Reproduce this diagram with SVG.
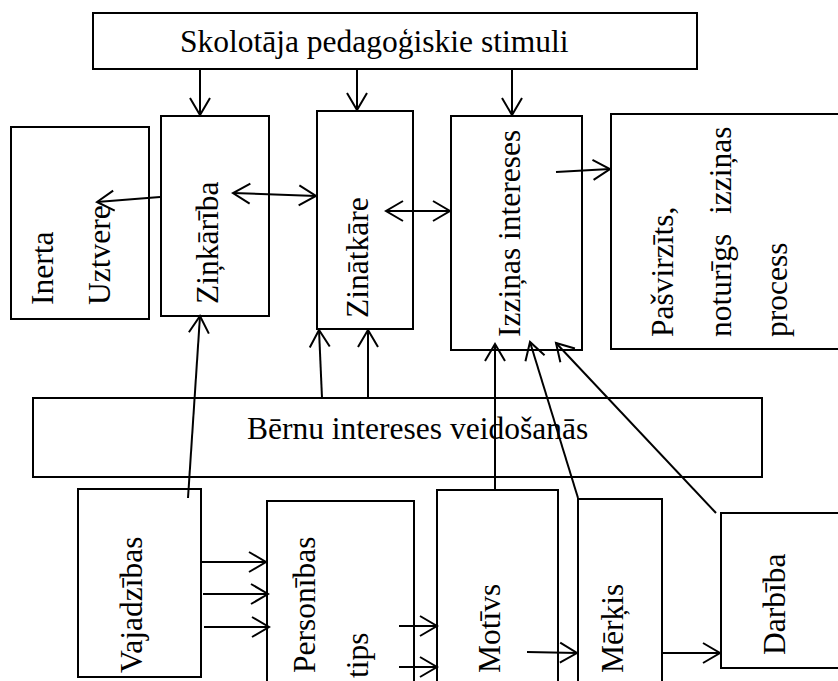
<svg xmlns="http://www.w3.org/2000/svg" width="838" height="681" viewBox="0 0 838 681">
<style>
.box{fill:#fff;stroke:#000;stroke-width:2}
.t{font-family:"Liberation Serif","Times New Roman",serif;font-size:31.5px;fill:#000}
.c{fill:none;stroke:#000;stroke-width:2;marker-end:url(#ah)}
.d{marker-start:url(#ah)}
</style>
<defs>
<marker id="ah" markerUnits="userSpaceOnUse" viewBox="-19 -12 22 24" refX="0" refY="0" markerWidth="22" markerHeight="24" orient="auto-start-reverse" overflow="visible">
<path d="M-17,-10 L0,0 L-17,10" fill="none" stroke="#000" stroke-width="2"/>
</marker>
</defs>
<rect width="838" height="681" fill="#fff"/>
<g id="skolotaja"><rect class="box" x="93" y="13" width="604" height="56"/><text class="t" x="180" y="52">Skolotāja pedagoģiskie stimuli</text></g>
<g id="inerta"><rect class="box" x="11" y="127" width="138" height="192"/><text class="t" transform="translate(53,305) rotate(-90)">Inerta</text><text class="t" transform="translate(110,305) rotate(-90)">Uztvere</text></g>
<g id="zinkariba"><rect class="box" x="161" y="116" width="108" height="200"/><text class="t" transform="translate(218,304) rotate(-90)">Ziņkārība</text></g>
<g id="zinatkare"><rect class="box" x="317" y="111" width="96" height="218"/><text class="t" transform="translate(368,318) rotate(-90)">Zinātkāre</text></g>
<g id="izzinas"><rect class="box" x="451" y="116" width="131" height="234"/><text class="t" transform="translate(520,337) rotate(-90)">Izziņas intereses</text></g>
<g id="pasvirzits"><rect class="box" x="611" y="114" width="240" height="235"/><text class="t" transform="translate(673,337) rotate(-90)">Pašvirzīts,</text><text class="t" transform="translate(731,337) rotate(-90)">noturīgs</text><text class="t" transform="translate(731,214) rotate(-90)">izziņas</text><text class="t" transform="translate(787,337) rotate(-90)">process</text></g>
<g id="bernu"><rect class="box" x="33" y="398" width="729" height="79"/><text class="t" x="247" y="439">Bērnu intereses veidošanās</text></g>
<g id="vajadzibas"><rect class="box" x="78" y="489" width="123" height="188"/><text class="t" transform="translate(142,673) rotate(-90)">Vajadzības</text></g>
<g id="personibas"><rect class="box" x="267" y="501" width="147" height="200"/><text class="t" transform="translate(315,673) rotate(-90)">Personības</text><text class="t" transform="translate(368,678) rotate(-90)">tips</text></g>
<g id="motivs"><rect class="box" x="437" y="490" width="121" height="210"/><text class="t" transform="translate(500,673) rotate(-90)">Motīvs</text></g>
<g id="merkis"><rect class="box" x="578" y="499" width="84" height="200"/><text class="t" transform="translate(623,673) rotate(-90)">Mērķis</text></g>
<g id="darbiba"><rect class="box" x="721" y="513" width="140" height="155"/><text class="t" transform="translate(785,655) rotate(-90)">Darbība</text></g>
<g id="connectors">
<line class="c" x1="200" y1="69" x2="200" y2="115"/>
<line class="c" x1="357" y1="69" x2="357" y2="110"/>
<line class="c" x1="512" y1="69" x2="512" y2="115"/>
<line class="c" x1="160" y1="197" x2="97" y2="202"/>
<line class="c d" x1="233" y1="193" x2="316" y2="196"/>
<line class="c d" x1="386" y1="211" x2="450" y2="211"/>
<line class="c" x1="556" y1="172" x2="610" y2="169"/>
<line class="c" x1="322" y1="398" x2="319" y2="330"/>
<line class="c" x1="368" y1="398" x2="368" y2="330"/>
<line class="c" x1="188" y1="498" x2="200" y2="316"/>
<line class="c" x1="495" y1="490" x2="495" y2="344"/>
<line class="c" x1="578" y1="498" x2="530" y2="342"/>
<line class="c" x1="716" y1="513" x2="556" y2="343"/>
<line class="c" x1="201" y1="562" x2="266" y2="562"/>
<line class="c" x1="203" y1="594" x2="268" y2="594"/>
<line class="c" x1="204" y1="627" x2="269" y2="627"/>
<line class="c" x1="399" y1="626" x2="437" y2="626"/>
<line class="c" x1="399" y1="667" x2="437" y2="667"/>
<line class="c" x1="527" y1="652" x2="577" y2="653"/>
<line class="c" x1="662" y1="653" x2="720" y2="653"/>
</g>
</svg>
